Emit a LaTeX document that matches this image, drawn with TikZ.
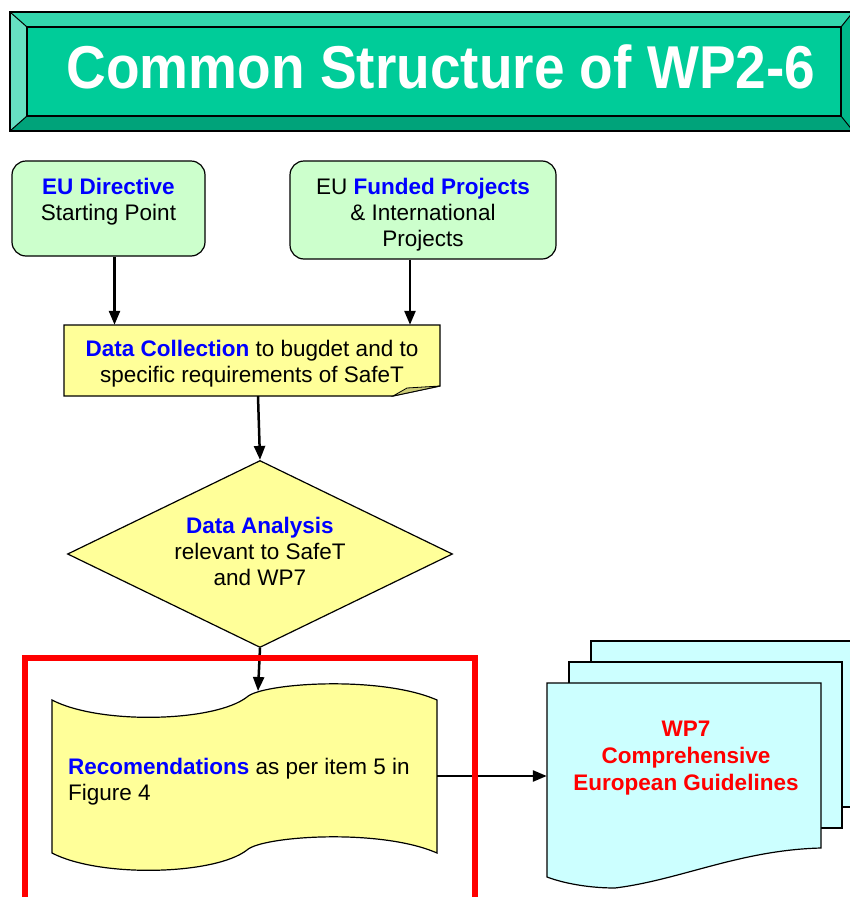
\documentclass[tikz,border=0pt]{standalone}
\usepackage{fontspec}
\setmainfont{Liberation Sans}
\usetikzlibrary{arrows.meta,shapes.geometric}

\definecolor{facegreen}{HTML}{00CC99}
\definecolor{toplight}{HTML}{33D6AD}
\definecolor{leftlight}{HTML}{66E0C2}
\definecolor{bottomdark}{HTML}{00A37A}
\definecolor{rightdark}{HTML}{00B88A}
\definecolor{startgreen}{HTML}{CCFFCC}
\definecolor{notey}{HTML}{FFFF99}
\definecolor{foldy}{HTML}{CCCC77}
\definecolor{doccyan}{HTML}{CCFFFF}
\definecolor{keyblue}{HTML}{0000FF}
\definecolor{framered}{HTML}{FF0000}

\newcommand{\hl}[1]{\textcolor{keyblue}{\textbf{#1}}}

\tikzset{
  flow/.style={line width=2.5pt, -{Triangle[length=14pt,width=11pt]}},
  startbox/.style={draw, line width=1.2pt, rounded corners=14pt, fill=startgreen},
  shapeline/.style={draw, line width=1.2pt},
  txt/.style={align=center, inner sep=0pt, font=\fontsize{22.5}{26}\selectfont},
}

\begin{document}
\begin{tikzpicture}[x=1pt, y=-1pt]
  \useasboundingbox (0,0) rectangle (850,897);

  % title bar
  \fill[toplight] (10,12) -- (853,12) -- (841,27) -- (27,27) -- cycle;
  \fill[leftlight] (10,12) -- (27,27) -- (27,116) -- (10,131) -- cycle;
  \fill[bottomdark] (10,131) -- (27,116) -- (841,116) -- (853,131) -- cycle;
  \fill[rightdark] (853,12) -- (841,27) -- (841,116) -- (853,131) -- cycle;
  \draw[line width=1pt] (10,12) -- (27,27) (853,12) -- (841,27)
    (10,131) -- (27,116) (853,131) -- (841,116);
  \node[draw, line width=1.5pt, fill=facegreen, minimum width=814pt, minimum height=89pt,
    inner sep=0pt] (titleface) at (434,71.5) {};
  \draw[line width=2.5pt] (10,12) rectangle (853,131);
  \node[anchor=base, text=white, inner sep=0pt,
    font=\fontsize{55}{60}\selectfont\bfseries] (title) at (441,88)
    {\scalebox{1}[1.1]{Common Structure of WP2-6}};

  % starting points
  \node[startbox, minimum width=193pt, minimum height=95pt] (directive) at (108.5,208.5) {};
  \node[txt] (directivetext) at (108.5,202) {\hl{EU Directive}\\Starting Point};
  \node[startbox, minimum width=266pt, minimum height=98pt] (funded) at (423,210) {};
  \node[txt] (fundedtext) at (423,215) {EU \hl{Funded Projects}\\\& International\\Projects};

  % data collection
  \node[minimum width=376pt, minimum height=71pt, inner sep=0pt] (collect) at (252,360.5) {};
  \path[shapeline, fill=notey] (64,325) -- (440,325) -- (440,386) -- (393,396) -- (64,396) -- cycle;
  \path[shapeline, fill=foldy, line width=0.8pt] (393,396) -- (407,388) -- (440,386) -- cycle;
  \node[txt] (collecttext) at (252,364) {\hl{Data Collection} to bugdet and to\\specific requirements of SafeT};

  % data analysis
  \node[diamond, shapeline, fill=notey, minimum width=385pt, minimum height=187pt,
    aspect=2.06, inner sep=0pt] (analysis) at (260,554)
    {\fontsize{22.5}{26}\selectfont\raisebox{-2pt}{\begin{tabular}{@{}c@{}}\hl{Data Analysis}\\relevant to SafeT\\and WP7\end{tabular}}};

  % recommendations
  \node[minimum width=385pt, minimum height=153pt, inner sep=0pt] (recom) at (244.5,776) {};
  \path[shapeline, fill=notey] (52,700) .. controls (100,725) and (215,722) .. (247,697)
    .. controls (262,683) and (380,675) .. (437,700) -- (437,853)
    .. controls (380,828) and (262,836) .. (247,850)
    .. controls (215,875) and (100,878) .. (52,853) -- cycle;
  \node[txt, align=left, anchor=west] (recomtext) at (68,782)
    {\hl{Recomendations} as per item 5 in\\Figure 4};
  \coordinate (recomtop) at (258,691);

  % WP7 documents
  \path[shapeline, fill=doccyan] (591,641) rectangle (870,807);
  \path[shapeline, fill=doccyan] (569,662) rectangle (842,828);
  \node[minimum width=274pt, minimum height=165pt, inner sep=0pt] (guide) at (684,765.5) {};
  \path[shapeline, fill=doccyan] (547,683) -- (821,683) -- (821,848)
    .. controls (740,850) and (680,880) .. (615,888)
    .. controls (585,888) and (560,882) .. (547,877) -- cycle;
  \node[txt, text=framered, font=\fontsize{22.5}{27}\selectfont\bfseries] (guidetext) at (686,758)
    {WP7\\Comprehensive\\European Guidelines};

  % connectors
  \draw[flow] ([xshift=6pt]directive.south) -- ([xshift=6pt]directive.south |- collect.north);
  \draw[flow] ([xshift=-13pt]funded.south) -- ([xshift=-13pt]funded.south |- collect.north);
  \draw[flow] ([xshift=6pt]collect.south) -- (analysis.north);
  \draw[flow] (analysis.south) -- (recomtop);
  \draw[flow] (recom.east) -- (recom.east -| guide.west);

  % red frame
  \draw[framered, line width=6pt] (25,905) -- (25,658) -- (475,658) -- (475,905);
\end{tikzpicture}
\end{document}
